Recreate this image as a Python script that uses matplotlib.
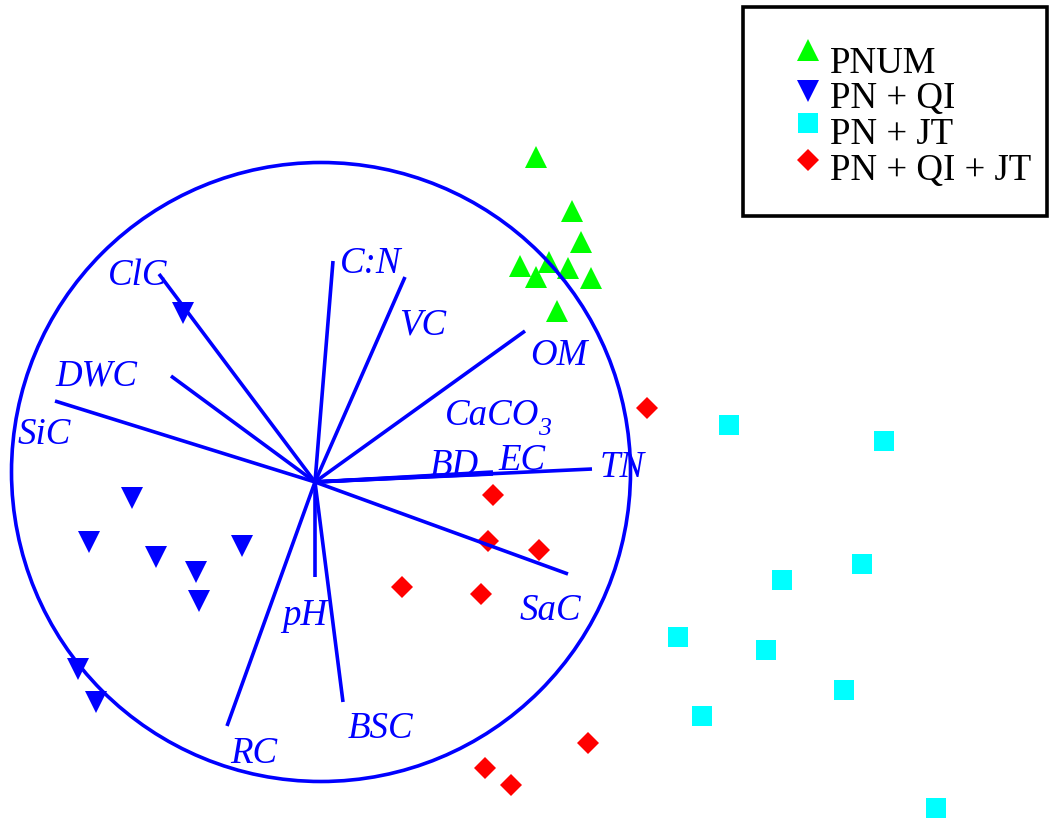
import matplotlib
matplotlib.use('Agg')
import matplotlib.pyplot as plt
from matplotlib.patches import Ellipse, Rectangle

plt.rcParams['font.family'] = ['Liberation Serif', 'DejaVu Serif']

# ---- sample scores (axis 1, axis 2) ----
pnum_x = [2.21, 2.57, 2.66, 2.34, 2.05, 2.53, 2.21, 2.76, 2.42]
pnum_y = [3.25, 2.71, 2.40, 2.20, 2.16, 2.14, 2.05, 2.04, 1.71]

pnqi_x = [-1.83, -2.26, -1.59, -0.73, -1.19, -1.16, -2.37, -2.19, -1.32]
pnqi_y = [-0.16, -0.60, -0.75, -0.64, -0.90, -1.19, -1.87, -2.20, 1.69]

pnjt_x = [4.14, 5.69, 5.47, 4.67, 3.63, 4.51, 5.29, 3.87, 6.21]
pnjt_y = [0.57, 0.41, -0.82, -0.98, -1.55, -1.68, -2.08, -2.34, -3.26]

pnqijt_x = [1.78, 1.73, 2.24, 0.87, 1.66, 2.73, 1.70, 1.96, 3.32]
pnqijt_y = [-0.13, -0.59, -0.68, -1.05, -1.12, -2.61, -2.86, -3.03, 0.74]

group_names = ['PNUM', 'PN + QI', 'PN + JT', 'PN + QI + JT']

# ---- variable loadings ----
var_names = ['ClC', 'DWC', 'SiC', 'C:N', 'VC', 'OM', 'CaCO',
             'BD', 'EC', 'TN', 'SaC', 'BSC', 'pH', 'RC']
var_x = [-1.56, -1.44, -2.60, 0.18, 0.90, 2.10, 1.75, 1.78, 1.78, 2.77, 2.53, 0.28, 0.00, -0.88]
var_y = [2.08, 1.06, 0.81, 2.21, 2.05, 1.51, 0.09, 0.08, 0.10, 0.13, -0.92, -2.20, -0.95, -2.44]

# label anchor (left, baseline)
lab_x = [-2.07, -2.60, -2.97, 0.25, 0.84, 2.15, 1.30, 1.15, 1.83, 2.85, 2.05, 0.33, -0.33, -0.85]
lab_y = [1.98, 0.97, 0.39, 2.10, 1.48, 1.18, 0.58, 0.08, 0.13, 0.06, -1.37, -2.55, -1.42, -2.80]

BLUE = '#0000FF'
LW = 2.6
FS = 26.6
styles = [
    dict(marker='^', color='#00FF00', ms=16),
    dict(marker='v', color='#0000FF', ms=16),
    dict(marker='s', color='#00FFFF', ms=13.7),
    dict(marker='D', color='#FF0000', ms=11),
]
groups = [(pnum_x, pnum_y), (pnqi_x, pnqi_y), (pnjt_x, pnjt_y), (pnqijt_x, pnqijt_y)]

fig = plt.figure(figsize=(10.49, 8.2), dpi=100)
ax = fig.add_axes([0, 0, 1, 1])
ax.set_xlim(-3.15, 7.34)
ax.set_ylim(-3.37, 4.83)
ax.axis('off')

for (gx, gy), st in zip(groups, styles):
    ax.plot(gx, gy, linestyle='none', marker=st['marker'], color=st['color'],
            ms=st['ms'], mew=0, zorder=2)

ax.add_patch(Ellipse((0.06, 0.10), 6.19, 6.19, fill=False, ec=BLUE, lw=LW, zorder=3))

for x, y in zip(var_x, var_y):
    ax.plot([0, x], [0, y], color=BLUE, lw=LW, zorder=3, solid_capstyle='butt')

for name, x, y in zip(var_names, lab_x, lab_y):
    ax.text(x, y, name, fontsize=FS, style='italic', color=BLUE,
            ha='left', va='baseline', zorder=4)
# subscript of CaCO3
ax.text(2.23, 0.48, '3', fontsize=18.5, style='italic', color=BLUE,
        ha='left', va='baseline', zorder=4)

# legend
ax.add_patch(Rectangle((4.28, 2.66), 3.04, 2.09, fill=False, ec='black', lw=LW, zorder=5))
leg_marker_y = [4.32, 3.91, 3.59, 3.22]
leg_text_y = [4.10, 3.75, 3.39, 3.03]
for name, st, my, ty in zip(group_names, styles, leg_marker_y, leg_text_y):
    ax.plot([4.93], [my], linestyle='none', marker=st['marker'], color=st['color'],
            ms=st['ms'], mew=0, zorder=5)
    ax.text(5.15, ty, name, fontsize=FS, color='black', ha='left', va='baseline', zorder=5)

fig.savefig('out.png', dpi=100)
